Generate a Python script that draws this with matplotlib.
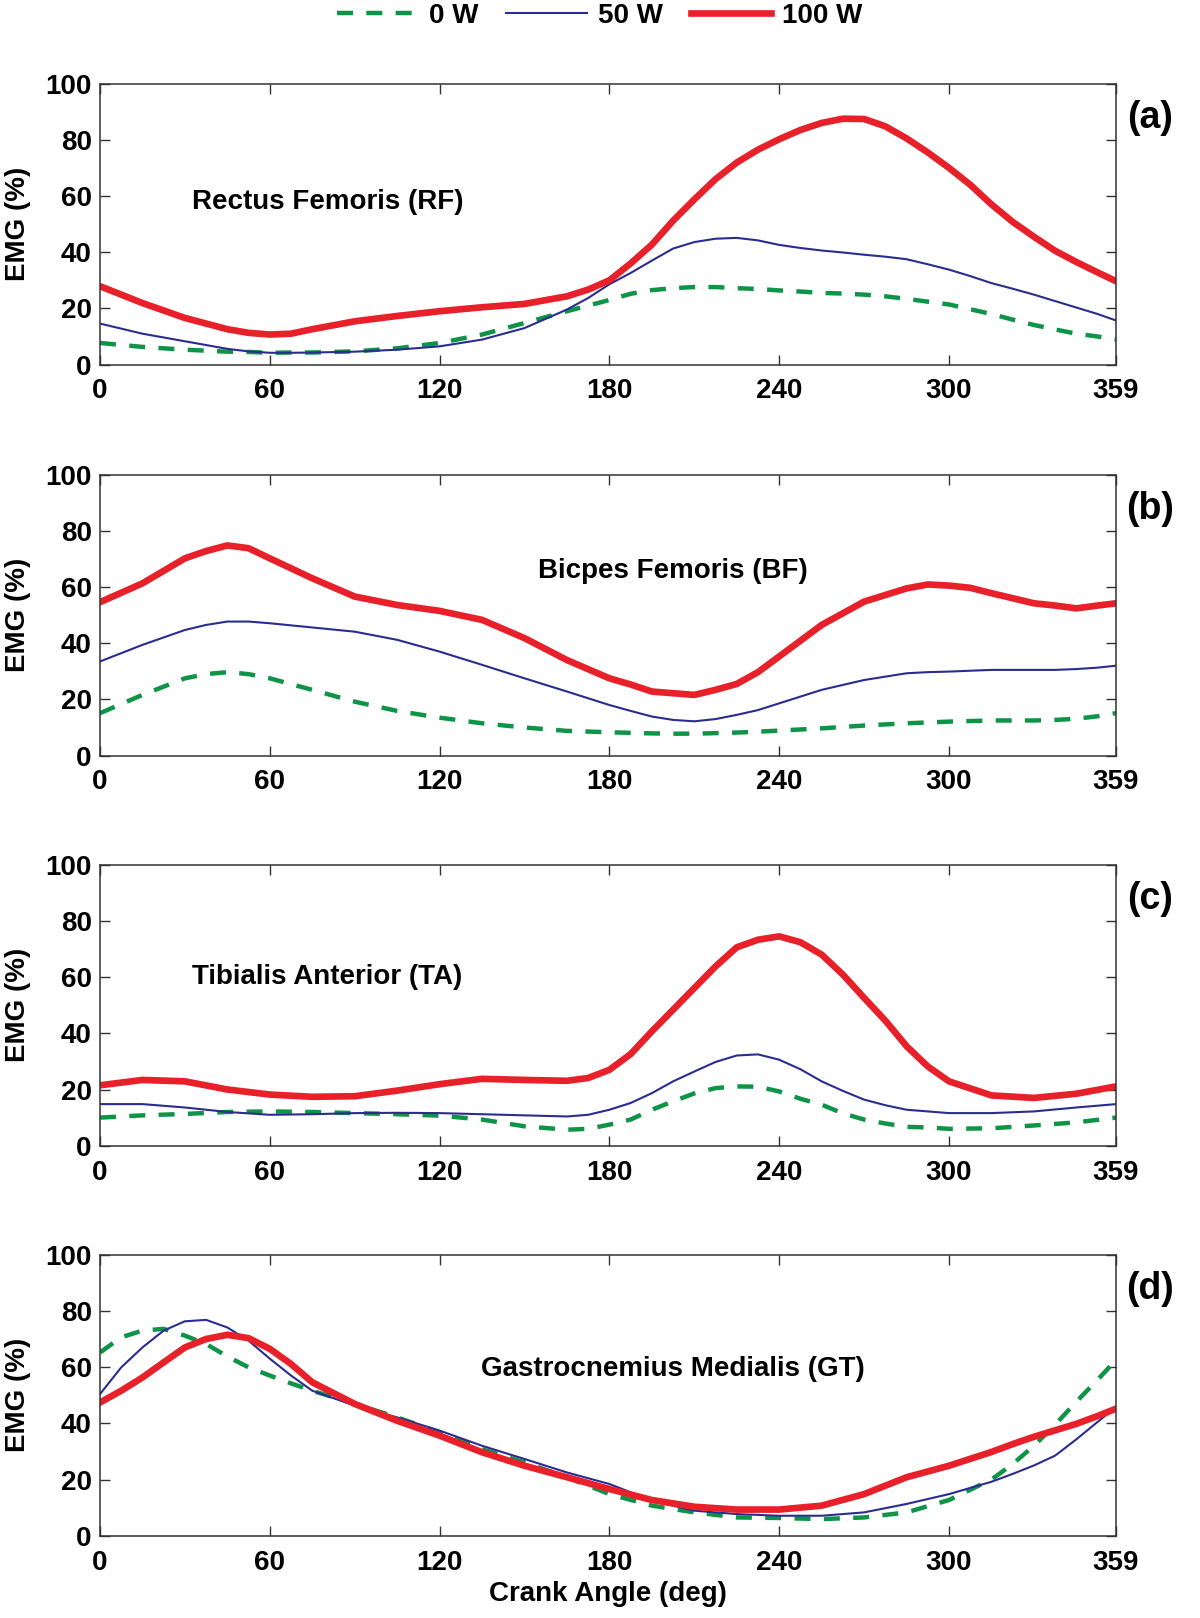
import numpy as np
import matplotlib.pyplot as plt
from matplotlib.lines import Line2D

plt.rcParams['font.family'] = ['Liberation Sans', 'DejaVu Sans']
plt.rcParams['font.weight'] = 'bold'

# (a) Rectus Femoris
rf_angle = [0, 15, 30, 45, 52.5, 60, 67.5, 75, 90, 105, 120, 135, 150, 165, 172.5,
            180, 187.5, 195, 202.5, 210, 217.5, 225, 232.5, 240, 247.5, 255, 262.5, 270, 277.5,
            285, 292.5, 300, 307.5, 315, 322.5, 330, 337.5, 345, 352.5, 359]
rf_0w = [7.7, 6.3, 5.3, 4.6, 4.5, 4.2, 4.3, 4.3, 4.7, 5.8, 7.7, 10.7, 14.8, 19.0, 21.0,
         23.0, 25.2, 26.5, 27.2, 27.6, 27.6, 27.2, 26.9, 26.4, 26.0, 25.5, 25.3, 24.9, 24.3,
         23.4, 22.4, 21.4, 19.7, 18.0, 16.0, 14.1, 12.5, 11.0, 10.0, 8.9]
rf_50w = [14.6, 11.0, 8.3, 5.6, 4.7, 4.2, 4.2, 4.3, 4.6, 5.3, 6.5, 8.9, 13.0, 19.6, 23.7,
          28.6, 32.6, 37.0, 41.3, 43.6, 44.8, 45.1, 44.2, 42.6, 41.5, 40.6, 39.9, 39.1, 38.4,
          37.5, 35.7, 33.8, 31.5, 29.0, 27.0, 24.9, 22.6, 20.3, 18.0, 15.7]
rf_100w = [27.9, 21.9, 16.6, 12.6, 11.3, 10.7, 11.0, 12.6, 15.4, 17.3, 19.0, 20.4, 21.6, 24.3, 26.7,
           30.0, 36.0, 42.7, 51.2, 58.8, 66.0, 71.9, 76.5, 80.2, 83.5, 86.0, 87.5, 87.4, 84.8,
           80.5, 75.5, 70.0, 64.0, 57.0, 50.8, 45.5, 40.5, 36.5, 32.8, 29.7]

# (b) Biceps Femoris
bf_angle = [0, 15, 30, 37.5, 45, 52.5, 60, 75, 90, 105, 120, 135, 150, 165, 180, 187.5,
            195, 202.5, 210, 217.5, 225, 232.5, 240, 255, 270, 285, 292.5, 300, 307.5,
            315, 330, 337.5, 345, 352.5, 359]
bf_0w = [15.1, 21.6, 27.5, 29.0, 29.7, 29.0, 27.5, 23.4, 19.2, 15.9, 13.5, 11.5, 10.0, 8.8, 8.3, 8.1,
         7.9, 7.8, 7.8, 8.0, 8.2, 8.5, 8.9, 9.7, 10.7, 11.5, 11.8, 12.1, 12.3,
         12.5, 12.5, 12.7, 13.1, 14.0, 15.1]
bf_50w = [33.5, 39.4, 44.7, 46.5, 47.7, 47.7, 47.1, 45.6, 44.1, 41.2, 37.0, 32.3, 27.5, 22.8, 18.0, 15.9,
          13.9, 12.7, 12.2, 13.0, 14.5, 16.2, 18.6, 23.4, 26.9, 29.3, 29.7, 29.9, 30.2,
          30.5, 30.5, 30.5, 30.8, 31.3, 32.0]
bf_100w = [54.6, 61.3, 70.2, 72.8, 74.8, 73.8, 70.2, 63.1, 56.6, 53.6, 51.5, 48.3, 41.8, 34.0, 27.5, 25.3,
           22.8, 22.2, 21.6, 23.4, 25.5, 29.7, 35.3, 46.5, 54.8, 59.5, 60.9, 60.5, 59.7,
           57.8, 54.2, 53.4, 52.4, 53.4, 54.2]

# (c) Tibialis Anterior
ta_angle = [0, 15, 30, 45, 60, 75, 90, 105, 120, 135, 150, 165, 172.5, 180, 187.5, 195,
            202.5, 210, 217.5, 225, 232.5, 240, 247.5, 255, 262.5, 270, 277.5, 285,
            292.5, 300, 315, 330, 345, 359]
ta_0w = [10.0, 10.8, 11.3, 12.0, 12.2, 12.0, 11.6, 11.2, 10.7, 9.3, 6.9, 5.7, 6.0, 7.5, 9.3, 12.8,
         15.8, 18.6, 20.5, 21.1, 21.0, 19.3, 16.7, 14.6, 11.5, 9.3, 7.9, 6.7,
         6.5, 6.0, 6.2, 7.2, 8.3, 10.0]
ta_50w = [14.8, 14.8, 13.6, 12.0, 11.0, 11.2, 11.6, 11.7, 11.6, 11.2, 10.8, 10.4, 11.0, 12.8, 15.2, 18.7,
          22.9, 26.4, 29.8, 32.1, 32.5, 30.6, 27.2, 22.9, 19.5, 16.4, 14.4, 12.8,
          12.2, 11.6, 11.6, 12.2, 13.6, 14.8]
ta_100w = [21.5, 23.4, 22.9, 20.0, 18.2, 17.4, 17.6, 19.6, 21.9, 23.8, 23.4, 23.1, 24.1, 27.0, 32.6, 40.7,
           48.4, 56.1, 63.8, 70.6, 73.3, 74.5, 72.4, 68.0, 60.9, 52.6, 44.5, 35.4,
           28.2, 22.9, 17.9, 17.0, 18.5, 21.1]

# (d) Gastrocnemius Medialis
gt_angle = [0, 7.5, 15, 22.5, 30, 37.5, 45, 52.5, 60, 67.5, 75, 90, 105, 120, 135, 150,
            165, 180, 195, 210, 225, 240, 255, 270, 285, 300, 315, 322.5, 330, 337.5, 345,
            352.5, 359]
gt_0w = [65.2, 70.6, 73.0, 73.6, 71.2, 68.2, 63.8, 59.9, 57.0, 54.2, 51.6, 46.9, 42.1, 36.8, 30.8, 26.1,
         20.8, 14.8, 10.7, 8.3, 6.5, 6.3, 5.9, 6.5, 8.3, 12.7, 20.0, 25.5, 32.0, 39.5, 47.7,
         55.5, 62.5]
gt_50w = [50.4, 59.9, 67.0, 73.0, 76.3, 76.8, 74.1, 69.4, 63.0, 57.0, 51.6, 46.3, 42.1, 37.4, 32.0, 27.3,
          22.5, 18.4, 12.5, 8.9, 7.7, 7.1, 7.1, 8.3, 11.3, 14.8, 19.2, 22.0, 25.0, 28.5, 34.3,
          40.5, 45.8]
gt_100w = [47.4, 51.6, 56.3, 61.7, 67.0, 70.0, 71.5, 70.3, 66.5, 61.1, 54.6, 46.9, 40.9, 35.6, 29.7, 24.9,
           20.8, 16.6, 12.7, 10.3, 9.3, 9.3, 10.7, 14.8, 20.8, 24.9, 29.8, 32.6, 35.2, 37.5, 39.8,
           42.6, 45.2]

muscles = ['Rectus Femoris (RF)', 'Bicpes Femoris (BF)',
           'Tibialis Anterior (TA)', 'Gastrocnemius Medialis (GT)']
panel_tags = ['(a)', '(b)', '(c)', '(d)']
series = [(rf_angle, rf_0w, rf_50w, rf_100w), (bf_angle, bf_0w, bf_50w, bf_100w),
          (ta_angle, ta_0w, ta_50w, ta_100w), (gt_angle, gt_0w, gt_50w, gt_100w)]
text_pos = [(32.5, 58, 'left'), (202.5, 65.7, 'center'),
            (32.5, 59.9, 'left'), (202.3, 59.2, 'center')]

green = '#0e9447'
blue = '#2a2d8f'
red = '#e8202a'

W, H = 1200, 1618
fig = plt.figure(figsize=(12, 16.18), dpi=100)

left, right = 100, 1116
tops = [83.6, 474.6, 864.7, 1254.7]
ph = 281

for i in range(4):
    ax = fig.add_axes([left / W, 1 - (tops[i] + ph) / H, (right - left) / W, ph / H])
    x, y0, y50, y100 = series[i]
    ax.plot(x, y0, color=green, lw=3.2, dashes=(3.6, 3.0))
    ax.plot(x, y50, color=blue, lw=1.5)
    ax.plot(x, y100, color=red, lw=4.8, solid_joinstyle='round')
    ax.set_xlim(0, 359)
    ax.set_ylim(0, 100)
    ax.set_xticks([0, 60, 120, 180, 240, 300, 359])
    ax.set_yticks([0, 20, 40, 60, 80, 100])
    ax.tick_params(direction='in', top=True, right=True, length=7, width=1,
                   labelsize=20, color='#333333')
    ax.tick_params(axis='x', pad=10)
    ax.tick_params(axis='y', pad=6)
    for lab in ax.get_xticklabels() + ax.get_yticklabels():
        lab.set_fontweight('bold')
    for sp in ax.spines.values():
        sp.set_linewidth(1.1)
        sp.set_color('#333333')
    ax.set_ylabel('EMG (%)', fontsize=20, fontweight='bold')
    ax.yaxis.set_label_coords(-0.068, 0.5)
    tx, ty, ha = text_pos[i]
    ax.text(tx, ty, muscles[i], fontsize=20, fontweight='bold', ha=ha, va='center')
    fig.text(1150 / W, 1 - (tops[i] + 34) / H, panel_tags[i], fontsize=27,
             fontweight='bold', ha='center', va='center')
    if i == 3:
        ax.set_xlabel('Crank Angle (deg)', fontsize=20, fontweight='bold', labelpad=4)

handles = [Line2D([], [], color=green, lw=3.2, dashes=(3.6, 3.0)),
           Line2D([], [], color=blue, lw=1.5),
           Line2D([], [], color=red, lw=4.8)]
fig.legend(handles, ['0 W', '50 W', '100 W'], loc='center', ncol=3,
           bbox_to_anchor=(0.5, 1 - 16 / H), frameon=False,
           prop={'size': 20, 'weight': 'bold'}, handlelength=2.9,
           handletextpad=0.4, columnspacing=1.0)

fig.savefig('out.png', dpi=100)
